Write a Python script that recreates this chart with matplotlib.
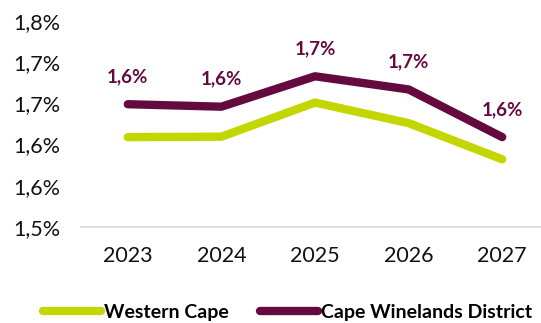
from decimal import Decimal, ROUND_HALF_UP

import matplotlib

matplotlib.use("Agg")
import matplotlib.pyplot as plt  # noqa: E402

years = ["2023", "2024", "2025", "2026", "2027"]
western_cape = [1.609, 1.6095, 1.651, 1.626, 1.582]
cape_winelands = [1.649, 1.646, 1.683, 1.667, 1.609]
y_ticks = [1.50, 1.55, 1.60, 1.65, 1.70, 1.75]

GREEN = "#C4D600"
PURPLE = "#650A3F"


def pct(v):
    # one decimal, half-up, comma separator
    d = Decimal(str(round(v, 4))).quantize(Decimal("0.1"), rounding=ROUND_HALF_UP)
    return f"{d}%".replace(".", ",")


plt.rcParams["font.family"] = ["Lato", "DejaVu Sans"]

fig = plt.figure(figsize=(5.41, 3.23), dpi=100)
ax = fig.add_axes([81 / 541, 96.3 / 323, 468 / 541, 226.7 / 323])

x = range(len(years))
ax.plot(x, western_cape, color=GREEN, lw=6, solid_capstyle="round",
        solid_joinstyle="round", label="Western Cape")
ax.plot(x, cape_winelands, color=PURPLE, lw=6, solid_capstyle="round",
        solid_joinstyle="round", label="Cape Winelands District")

for xi, v in zip(x, cape_winelands):
    ax.annotate(pct(v), (xi, v), xytext=(0, 20), textcoords="offset points",
                ha="center", va="center", fontsize=13.5, fontweight="bold",
                color=PURPLE)

ax.set_xlim(-0.5, len(years) - 0.5)
ax.set_ylim(1.50, 1.50 + 226.7 / 41.1 * 0.05)
ax.set_xticks(list(x))
ax.set_xticklabels(years)
ax.set_yticks(y_ticks)
ax.set_yticklabels([pct(v) for v in y_ticks])
ax.tick_params(axis="both", length=0, labelsize=15.5, colors="#111111")
ax.tick_params(axis="x", pad=14)
ax.tick_params(axis="y", pad=15)

for side in ("top", "right", "left"):
    ax.spines[side].set_visible(False)
ax.spines["bottom"].set_color("#D9D9D9")
ax.spines["bottom"].set_linewidth(1.2)

leg = fig.legend(loc="center", bbox_to_anchor=(0.531, 0.032), ncol=2,
                 frameon=False, handlelength=3.0, handletextpad=0.15,
                 columnspacing=1.6, borderpad=0.1,
                 prop={"weight": "bold", "size": 14})
for line in leg.get_lines():
    line.set_linewidth(6)
    line.set_solid_capstyle("round")

fig.savefig("out.png", dpi=100)
